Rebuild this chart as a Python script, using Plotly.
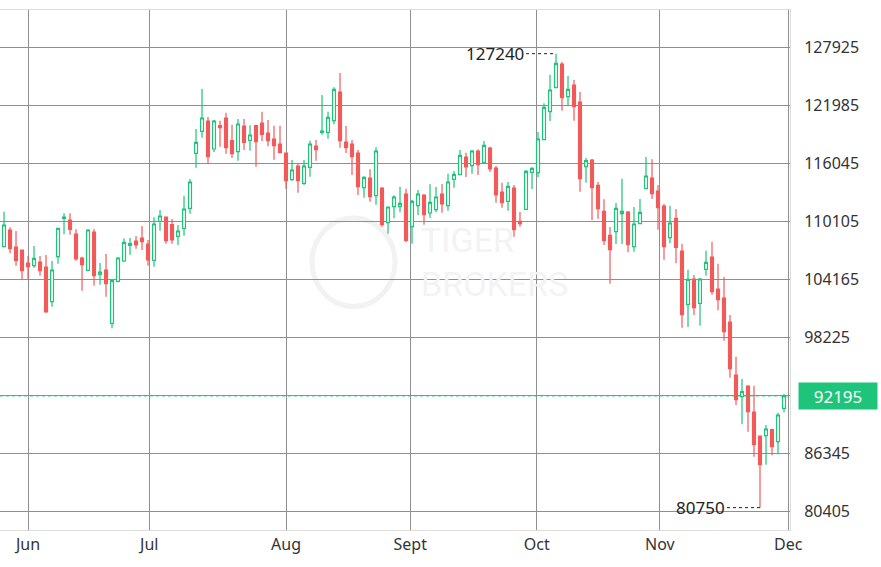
import plotly.graph_objects as go

opens = [107476,109183,107442,107135,105804,105530,105906,105394,101844,106452,110378,110207,108773,106316,105052,108978,104643,105087,99625,103926,
106009,107613,108056,108363,107749,106077,110070,110514,109729,108534,109354,111402,117035,119288,120346,117478,119868,120653,118332,117205,
119834,118366,119868,120141,119117,118503,117990,117069,114338,115737,113962,115601,117785,119185,119185,120380,123316,118195,117990,117069,
113518,114508,112699,113485,109934,111573,111573,112870,109524,111675,112768,110924,111265,112870,111675,114372,114850,116659,115772,117273,
116079,117580,115532,113075,112119,113485,110070,111299,115089,115055,118434,121302,123760,126184,122838,124033,122292,115669,116352,113757,
111095,108636,109012,110856,111026,107476,109831,113416,114508,113177,111641,108398,110378,107032,101570,104165,101672,105154,106418,103140,
102219,99761,94333,92113,93205,90542,88085,88119,88733,87504,90918]
highs = [111061,109456,109081,107135,106521,107545,106521,106623,106009,109354,110890,110890,109251,106452,109251,109285,105804,106725,104063,106384,
108329,108363,108568,109593,108159,110480,111231,110514,110309,109695,112699,114406,119527,123623,120755,120448,120380,121199,119970,120551,
120551,119902,119936,121302,120448,119868,119868,117103,116352,115977,116352,118332,118400,123009,121302,123794,125262,119834,118400,117376,
114679,115396,117649,113553,111538,112734,113621,113416,112256,113280,112836,113860,113587,113894,114952,115225,117376,117103,117376,117444,
118298,117717,115737,114031,114099,113792,111026,115328,115601,119220,122155,125091,127240,126389,124955,124545,123316,116591,116454,114099,
112324,109490,111948,114440,111129,111539,112358,116659,116420,113792,111846,111675,111334,107783,105120,104575,104268,107066,107988,105735,
104404,100478,96211,93922,93273,93239,88119,89210,88835,90474,92386]
lows = [107400,106794,105530,104165,104165,105326,104506,100717,101332,105735,108739,108705,106042,102970,105052,103482,103584,102355,99113,103824,
105906,106657,107271,107135,105530,105428,109115,107784,107784,107647,108603,110856,115566,118639,116045,117171,117717,117001,116557,116284,
117376,117308,115669,118298,117751,116386,117103,113416,114236,113007,113792,114645,116284,118946,118537,120004,117615,117069,114816,112768,
112494,112085,111777,109524,108807,110378,110992,107920,107784,110685,109729,110446,110992,110958,111163,113518,114850,114611,114952,114816,
116079,115123,111982,111470,111163,108500,109524,111299,113382,114577,118434,120346,123760,121404,121882,120380,113109,114030,110207,110344,
107647,103687,107749,107749,106896,106964,109763,113416,112358,109217,106145,107817,105769,99180,99248,100478,99385,104506,102560,100956,
97849,94060,91261,89279,88528,85968,80750,85149,86104,86206,90508]
closes = [109695,107271,106042,105018,105428,106282,105018,100785,105087,109354,110514,109251,106213,105633,109183,104506,104882,103687,103995,106316,
107920,107784,107647,107988,106111,109797,110616,108090,108159,109081,111334,114099,118161,120653,116693,120346,119663,117615,117001,120039,
118161,118912,118229,118980,118332,117820,117103,114236,115328,114236,115737,117990,117410,119322,120721,123589,118332,117615,116693,113621,
114577,112597,117273,109729,111538,112563,111914,108125,112119,112870,110753,112017,112563,111845,114099,114884,116830,115635,117273,115874,
117854,115430,112768,111982,113655,109217,109831,115191,115499,118503,121745,123521,126252,122736,123589,121814,114440,116284,113518,111368,
108090,107169,111402,111095,107681,109797,110992,114713,112904,111471,107476,109900,107408,100512,104131,101229,104165,105871,102867,102048,
98771,94982,91807,92625,90576,87197,85149,88801,86992,90235,92195]

y_ticks = [80405, 86345, 92195, 98225, 104165, 110105, 116045, 121985, 127925]
month_labels = ["Jun", "Jul", "Aug", "Sept", "Oct", "Nov", "Dec"]
month_pos = [4, 24.2, 47, 67.7, 88.8, 109.3, 130.7]
last_price = 92195
max_price, max_idx = 127240, 92
min_price, min_idx = 80750, 126

idx = list(range(len(opens)))
GREEN = "#1dc47a"
RED = "#f25a5a"

fig = go.Figure(go.Candlestick(
    x=idx, open=opens, high=highs, low=lows, close=closes,
    increasing=dict(line=dict(color=GREEN, width=1.2), fillcolor="white"),
    decreasing=dict(line=dict(color=RED, width=1.2), fillcolor=RED),
    whiskerwidth=0, showlegend=False, hoverinfo="skip"))

grid = "#8f8f8f"
fig.update_layout(
    width=881, height=567, paper_bgcolor="white", plot_bgcolor="white",
    margin=dict(l=0, r=91, t=10, b=37),
    font=dict(family="Noto Sans", size=16, color="#333"),
    xaxis=dict(range=[-0.67, 131], tickvals=month_pos, ticktext=month_labels,
               showgrid=True, gridcolor=grid, gridwidth=1, rangeslider=dict(visible=False),
               showline=True, linecolor="#ddd", mirror=True, ticks="", zeroline=False),
    yaxis=dict(side="right", range=[78459, 131714], tickvals=y_ticks,
               ticktext=["" if v == last_price else str(v) for v in y_ticks],
               showgrid=True, gridcolor=grid,
               showline=True, linecolor="#ddd", mirror=True, ticks="", zeroline=False,
               ticklabelstandoff=10),
)
fig.add_shape(type="line", xref="paper", x0=0, x1=1, y0=last_price, y1=last_price,
              line=dict(color=GREEN, width=1, dash="dot"))
fig.add_annotation(xref="paper", x=1.01, y=last_price, xanchor="left", yanchor="middle",
                   text=str(last_price), showarrow=False, bgcolor=GREEN,
                   font=dict(color="white", size=17), width=76, height=24, align="center")
fig.add_shape(type="line", x0=max_idx - 5, x1=max_idx, y0=max_price, y1=max_price,
              line=dict(color="#222", width=1, dash="dot"))
fig.add_annotation(x=max_idx - 5, y=max_price, xanchor="right", yanchor="middle",
                   text=str(max_price), showarrow=False, font=dict(size=17, color="#222"))
fig.add_shape(type="line", x0=min_idx - 5.5, x1=min_idx, y0=min_price, y1=min_price,
              line=dict(color="#222", width=1, dash="dot"))
fig.add_annotation(x=min_idx - 5.5, y=min_price, xanchor="right", yanchor="middle",
                   text=str(min_price), showarrow=False, font=dict(size=17, color="#222"))
fig.add_shape(type="circle", xref="paper", yref="paper", x0=0.395, x1=0.5, y0=0.43, y1=0.6,
              line=dict(color="#f2f2f2", width=5), layer="below")
fig.add_annotation(xref="paper", yref="paper", x=0.53, y=0.515, xanchor="left",
                   text="TIGER<br>BROKERS", showarrow=False, align="left",
                   font=dict(size=34, color="#f3f3f3", family="Roboto"))
fig.write_html("out.html", config={"displayModeBar": False})
with open("out.html") as f:
    html = f.read()
html = html.replace("<body>", '<body style="margin:0">', 1)
with open("out.html", "w") as f:
    f.write(html)
